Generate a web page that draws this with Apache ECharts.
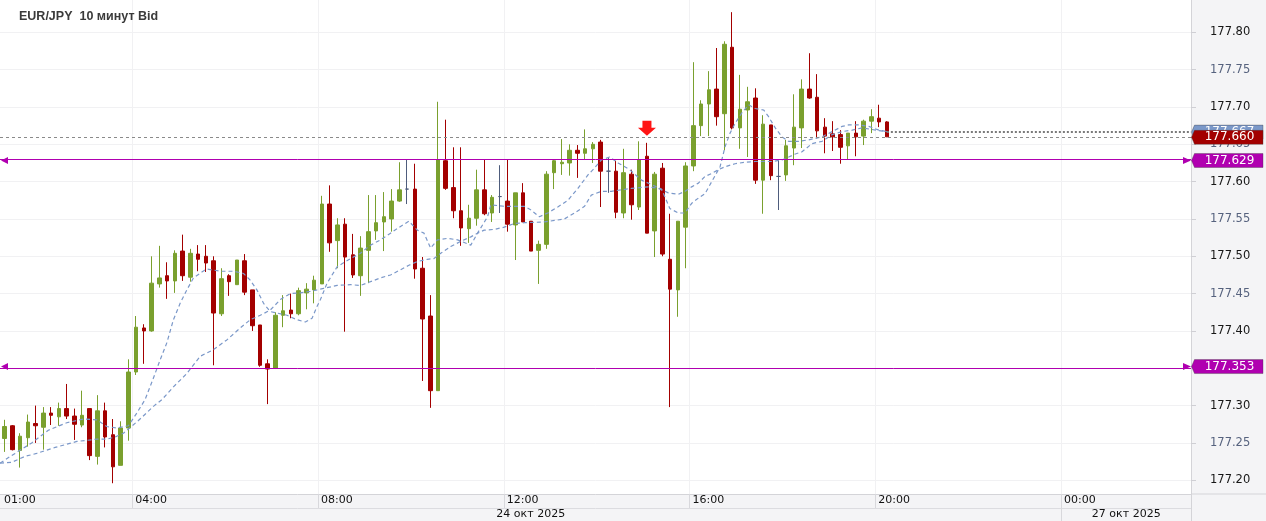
<!DOCTYPE html>
<html><head><meta charset="utf-8">
<script src="https://cdn.jsdelivr.net/npm/echarts@6/dist/echarts.min.js"></script>
<style>html,body{margin:0;padding:0;background:#fff}#c{width:1266px;height:521px}</style>
</head><body><div id="c"></div>
<script>
const chartTitle = 'EUR/JPY  10 минут Bid';
// candles: 10-minute slots counted from 24 Oct 00:00 (slot 7 = 01:10)
const firstSlot = 7;
const opens = [177.256,177.273,177.240,177.257,177.276,177.271,177.290,177.285,177.296,177.286,177.274,177.296,177.232,177.293,177.261,177.220,177.270,177.345,177.404,177.400,177.463,177.474,177.467,177.507,177.472,177.503,177.500,177.494,177.423,177.474,177.462,177.494,177.455,177.408,177.356,177.350,177.421,177.428,177.423,177.451,177.455,177.463,177.570,177.521,177.543,177.502,177.474,177.508,177.534,177.546,177.550,177.574,177.590,177.590,177.484,177.420,177.320,177.628,177.592,177.561,177.537,177.551,177.589,177.558,177.580,177.574,177.542,177.585,177.547,177.508,177.516,177.612,177.624,177.625,177.642,177.638,177.644,177.653,177.614,177.614,177.558,177.610,177.566,177.634,177.534,177.618,177.496,177.455,177.539,177.621,177.675,177.704,177.724,177.691,177.780,177.672,177.696,177.712,177.602,177.676,177.607,177.609,177.645,177.672,177.724,177.713,177.673,177.664,177.663,177.648,177.665,177.661,177.681,177.685,177.680];
const highs = [177.281,177.274,177.263,177.288,177.300,177.298,177.298,177.304,177.329,177.296,177.320,177.296,177.314,177.304,177.282,177.279,177.362,177.420,177.409,177.500,177.514,177.492,177.508,177.529,177.510,177.515,177.515,177.500,177.484,177.476,177.495,177.503,177.455,177.408,177.362,177.425,177.448,177.450,177.458,177.464,177.474,177.581,177.595,177.551,177.551,177.530,177.527,177.582,177.582,177.586,177.590,177.626,177.629,177.624,177.499,177.448,177.707,177.683,177.646,177.646,177.569,177.616,177.629,177.582,177.622,177.629,177.585,177.598,177.547,177.521,177.614,177.630,177.657,177.650,177.649,177.670,177.653,177.656,177.633,177.628,177.644,177.616,177.654,177.652,177.613,177.625,177.557,177.547,177.626,177.760,177.709,177.748,177.779,177.788,177.827,177.743,177.727,177.725,177.689,177.676,177.629,177.656,177.717,177.737,177.772,177.744,177.685,177.681,177.669,177.665,177.681,177.683,177.697,177.703,177.681];
const lows = [177.238,177.240,177.217,177.245,177.250,177.241,177.274,177.273,177.282,177.254,177.271,177.227,177.221,177.244,177.196,177.220,177.253,177.341,177.356,177.399,177.458,177.443,177.451,177.467,177.466,177.480,177.479,177.354,177.420,177.447,177.462,177.448,177.400,177.352,177.302,177.349,177.405,177.417,177.421,177.429,177.437,177.463,177.506,177.484,177.399,177.471,177.447,177.464,177.522,177.507,177.533,177.573,177.570,177.470,177.333,177.297,177.320,177.589,177.551,177.514,177.518,177.541,177.555,177.546,177.558,177.533,177.495,177.546,177.507,177.463,177.510,177.590,177.609,177.608,177.605,177.630,177.625,177.566,177.585,177.551,177.551,177.549,177.562,177.531,177.499,177.500,177.298,177.419,177.484,177.614,177.661,177.661,177.675,177.642,177.670,177.644,177.633,177.597,177.557,177.602,177.562,177.601,177.622,177.645,177.711,177.658,177.638,177.641,177.624,177.630,177.634,177.649,177.665,177.673,177.660];
const closes = [177.272,177.241,177.259,177.278,177.273,177.290,177.287,177.296,177.286,177.275,177.287,177.233,177.293,177.258,177.218,177.270,177.345,177.405,177.400,177.464,177.471,177.467,177.504,177.474,177.504,177.496,177.491,177.424,177.470,177.466,177.495,177.452,177.407,177.354,177.349,177.421,177.427,177.423,177.454,177.456,177.468,177.570,177.518,177.542,177.499,177.475,177.511,177.533,177.545,177.553,177.574,177.589,177.590,177.483,177.416,177.320,177.629,177.591,177.561,177.538,177.551,177.589,177.557,177.579,177.580,177.543,177.585,177.546,177.507,177.516,177.610,177.628,177.626,177.642,177.638,177.644,177.650,177.614,177.614,177.559,177.612,177.569,177.629,177.531,177.610,177.503,177.456,177.547,177.621,177.675,177.704,177.723,177.687,177.784,177.672,177.697,177.707,177.602,177.677,177.608,177.607,177.648,177.673,177.724,177.712,177.668,177.661,177.660,177.646,177.665,177.660,177.681,177.687,177.680,177.660];
// moving averages: [slot, price]
const fastMa = [[6.91,177.223],[8.85,177.236],[11.0,177.250],[13.15,177.267],[15.53,177.277],[17.68,177.282],[19.41,177.281],[20.7,177.272],[22.0,177.270],[23.5,177.273],[24.58,177.290],[25.65,177.308],[26.73,177.337],[27.59,177.361],[28.46,177.384],[29.31,177.415],[30.18,177.437],[31.05,177.455],[31.9,177.471],[32.99,177.479],[33.63,177.483],[35.36,177.480],[37.07,177.480],[38.37,177.477],[39.24,177.468],[40.1,177.455],[40.96,177.437],[41.83,177.426],[43.99,177.421],[45.28,177.415],[46.36,177.412],[47.23,177.417],[47.88,177.433],[48.31,177.442],[49.17,177.464],[50.47,177.486],[52.19,177.497],[53.48,177.504],[54.78,177.515],[56.07,177.522],[57.37,177.531],[58.66,177.540],[59.74,177.547],[60.83,177.535],[61.69,177.531],[62.55,177.511],[63.42,177.522],[64.72,177.524],[66.02,177.522],[67.74,177.515],[68.61,177.531],[69.91,177.553],[70.33,177.569],[72.06,177.567],[74.65,177.567],[75.52,177.562],[76.6,177.553],[77.68,177.558],[78.98,177.566],[80.28,177.575],[81.58,177.591],[82.88,177.609],[83.53,177.616],[84.6,177.629],[85.68,177.633],[86.77,177.625],[88.27,177.616],[89.8,177.602],[91.09,177.596],[92.39,177.590],[93.46,177.564],[94.56,177.558],[95.42,177.558],[96.28,177.571],[97.15,177.578],[98.01,177.584],[98.87,177.600],[99.95,177.620],[100.6,177.647],[101.24,177.665],[101.89,177.678],[102.76,177.692],[103.63,177.703],[104.49,177.698],[105.57,177.696],[106.22,177.687],[107.08,177.672],[107.94,177.660],[108.81,177.654],[110.11,177.654],[111.4,177.656],[113.13,177.660],[114.42,177.667],[115.72,177.674],[116.58,177.676],[117.88,177.676],[119.17,177.674],[120.47,177.669],[121.5,177.667]];
const slowMa = [[6.91,177.223],[8.42,177.224],[10.14,177.232],[11.65,177.236],[14.03,177.244],[16.84,177.252],[19.41,177.255],[20.7,177.255],[21.78,177.258],[22.85,177.263],[24.79,177.280],[26.73,177.299],[27.82,177.308],[29.31,177.325],[31.05,177.343],[32.77,177.366],[34.49,177.375],[36.22,177.388],[37.95,177.404],[39.24,177.415],[40.54,177.421],[41.83,177.428],[43.13,177.442],[44.42,177.450],[45.72,177.451],[47.01,177.453],[48.74,177.457],[50.47,177.461],[52.19,177.462],[53.48,177.461],[54.78,177.466],[56.07,177.471],[57.37,177.475],[58.66,177.482],[59.74,177.488],[60.83,177.493],[62.13,177.496],[62.98,177.497],[63.85,177.504],[65.15,177.513],[66.44,177.520],[67.74,177.526],[68.61,177.531],[69.47,177.535],[70.76,177.536],[72.06,177.539],[73.36,177.544],[74.65,177.545],[77.25,177.546],[78.54,177.548],[79.84,177.550],[81.14,177.558],[82.44,177.567],[83.31,177.582],[84.6,177.587],[85.9,177.587],[87.2,177.589],[88.5,177.591],[90.66,177.593],[91.96,177.591],[93.26,177.585],[94.56,177.583],[95.42,177.587],[96.28,177.593],[97.15,177.598],[98.01,177.607],[98.87,177.611],[99.75,177.616],[100.6,177.620],[101.89,177.624],[103.19,177.626],[104.49,177.627],[106.65,177.627],[107.94,177.629],[108.81,177.633],[109.67,177.637],[110.54,177.640],[111.84,177.651],[113.13,177.654],[114.42,177.663],[115.72,177.667],[117.02,177.669],[118.32,177.672],[120.04,177.669],[121.5,177.667]];
const timeTickSlots = [24,48,72,96,120,144];
const timeTickLabels = ['04:00','08:00','12:00','16:00','20:00','00:00'];
const firstTimeLabel = '01:00';
const dateLabels = ['24 окт 2025','27 окт 2025'];
const dayBreakSlot = 144;
const priceTicks = [177.20,177.25,177.30,177.35,177.40,177.45,177.50,177.55,177.60,177.65,177.70,177.75,177.80];
const levels = [177.629,177.353];
const lastPrice = 177.660;
const maLastValue = 177.667;
const signalSlot = 90;

const X_MIN = 6.905, X_MAX = 160.8, Y_MIN = 177.1816, Y_MAX = 177.8433;
const FONT = 'DejaVu Sans';
const GREEN = '#7aa02e', RED = '#a30000', DOJI = '#4e5c7c', MAG = '#b000b0';

const candleData = opens.map((o, i) => [firstSlot + i + 0.5, o, closes[i], lows[i], highs[i]]);

const chart = echarts.init(document.getElementById('c'), null, {renderer: 'canvas'});
const option = {
  animation: false,
  backgroundColor: '#f4f4f6',
  title: {text: chartTitle, left: 19, top: 10, padding: 0, textStyle: {fontFamily: 'Liberation Sans', fontSize: 12.5, fontWeight: 'bold', color: '#3a3a3a'}},
  grid: {left: 0, right: 75, top: 0, bottom: 27, show: true, backgroundColor: '#ffffff', borderWidth: 0, containLabel: false},
  xAxis: {
    type: 'value', min: X_MIN, max: X_MAX,
    axisLine: {show: true, onZero: false, lineStyle: {color: '#d4d4d8', width: 1}},
    axisTick: {show: true, customValues: timeTickSlots, length: 14, lineStyle: {color: '#d8d8dc'}},
    axisLabel: {customValues: timeTickSlots, formatter: v => { const i = timeTickSlots.indexOf(v); return i >= 0 ? timeTickLabels[i] : ''; },
      align: 'left', padding: [0, 0, 0, 3], margin: 0, lineHeight: 12, fontFamily: FONT, fontSize: 11, color: '#111'},
    splitLine: {show: true, lineStyle: {color: '#f1f1f3', width: 1}}
  },
  yAxis: {
    type: 'value', position: 'right', min: Y_MIN, max: Y_MAX, scale: true,
    axisLine: {show: true, onZero: false, lineStyle: {color: '#d4d4d8'}},
    axisTick: {show: true, customValues: priceTicks, length: 5, lineStyle: {color: '#cfcfd4'}},
    axisLabel: {customValues: priceTicks, margin: 19, fontFamily: FONT, fontSize: 11.5,
      formatter: v => v.toFixed(2),
      color: v => (Math.round(v * 100) % 10 === 0 ? '#161616' : '#56627e')},
    splitLine: {show: true, lineStyle: {color: '#f1f1f3', width: 1}}
  },
  series: [
    {
      type: 'candlestick', data: candleData, encode: {x: 0, y: [1, 2, 3, 4]},
      barWidth: 4, silent: true, z: 2,
      itemStyle: {color: GREEN, color0: RED, borderColor: GREEN, borderColor0: RED, borderColorDoji: DOJI, borderWidth: 1},
      markLine: {
        silent: true, symbol: 'none', animation: false, label: {show: false},
        data: [
          {yAxis: lastPrice, lineStyle: {color: '#8a8a8a', width: 1, type: [3, 3]}},
          {yAxis: levels[0], lineStyle: {color: MAG, width: 1, type: 'solid'}},
          {yAxis: levels[1], lineStyle: {color: MAG, width: 1, type: 'solid'}},
          [{coord: [firstSlot + opens.length - 0.5, maLastValue], lineStyle: {color: '#7a7a7a', width: 2, type: [2, 2]}}, {coord: [X_MAX, maLastValue]}]
        ]
      }
    },
    {type: 'line', data: slowMa, showSymbol: false, silent: true, z: 3,
      lineStyle: {color: '#7b98c9', width: 1.2, type: [4, 3]}},
    {type: 'line', data: fastMa, showSymbol: false, silent: true, z: 3,
      lineStyle: {color: '#7b98c9', width: 1.2, type: [4, 3]}}
  ]
};
chart.setOption(option);

function P(x, y) { return chart.convertToPixel({gridIndex: 0}, [x, y]); }
const right = P(X_MAX, Y_MIN)[0], bottom = P(X_MAX, Y_MIN)[1], left = P(X_MIN, Y_MIN)[0];
const W = 1266, H = 521;
const g = [];
g.push({type: 'line', z: 50, shape: {x1: left, y1: bottom + 14.5, x2: right, y2: bottom + 14.5}, style: {stroke: '#dcdce0', lineWidth: 1}});
g.push({type: 'line', z: 50, shape: {x1: right, y1: bottom, x2: W, y2: bottom}, style: {stroke: '#d4d4d8', lineWidth: 1}});
g.push({type: 'line', z: 50, shape: {x1: right + 0.5, y1: bottom, x2: right + 0.5, y2: H}, style: {stroke: '#d4d4d8', lineWidth: 1}});
const dayX = Math.round(P(dayBreakSlot, Y_MIN)[0]) + 0.5;
g.push({type: 'line', z: 50, shape: {x1: dayX, y1: bottom + 14, x2: dayX, y2: H}, style: {stroke: '#d8d8dc', lineWidth: 1}});
g.push({type: 'text', z: 60, style: {text: firstTimeLabel, x: 4, y: bottom + 6.5, verticalAlign: 'middle', font: '11px "DejaVu Sans"', fill: '#111'}});
g.push({type: 'text', z: 60, style: {text: dateLabels[0], x: (left + dayX) / 2, y: bottom + 20.5, align: 'center', verticalAlign: 'middle', font: '11px "DejaVu Sans"', fill: '#111'}});
g.push({type: 'text', z: 60, style: {text: dateLabels[1], x: (dayX + right) / 2, y: bottom + 20.5, align: 'center', verticalAlign: 'middle', font: '11px "DejaVu Sans"', fill: '#111'}});
levels.forEach(v => {
  const y = Math.round(P(X_MIN, v)[1]) + 0.5;
  g.push({type: 'polygon', z: 60, shape: {points: [[1, y], [8, y - 3.5], [8, y + 3.5]]}, style: {fill: MAG}});
  g.push({type: 'polygon', z: 60, shape: {points: [[right, y], [right - 8, y - 3.5], [right - 8, y + 3.5]]}, style: {fill: MAG}});
});
let tagZ = 70;
function priceTag(v, fill, txt) {
  const y = P(X_MAX, v)[1] + 0.5;
  const h = 14;
  g.push({type: 'polygon', z: tagZ++, shape: {points: [[right + 0.5, y], [right + 3.5, y - h / 2], [W - 3, y - h / 2], [W - 3, y + h / 2], [right + 3.5, y + h / 2]]}, style: {fill: fill, stroke: 'rgba(60,60,60,0.35)', lineWidth: 1}});
  g.push({type: 'text', z: tagZ++, style: {text: txt, x: (right + W) / 2 + 1, y: y, align: 'center', verticalAlign: 'middle', font: '12px "DejaVu Sans"', fill: '#fff'}});
}
priceTag(maLastValue, '#7b98c9', maLastValue.toFixed(3));
priceTag(lastPrice, RED, lastPrice.toFixed(3));
priceTag(levels[0], MAG, levels[0].toFixed(3));
priceTag(levels[1], MAG, levels[1].toFixed(3));
const si = signalSlot - firstSlot;
const tip = P(signalSlot + 0.5, highs[si]);
const cx = tip[0], ty = tip[1] - 7;
g.push({type: 'polygon', z: 60, shape: {points: [[cx - 4.5, ty - 15], [cx + 4.5, ty - 15], [cx + 4.5, ty - 8], [cx + 9, ty - 8], [cx, ty], [cx - 9, ty - 8], [cx - 4.5, ty - 8]]}, style: {fill: '#ff1414'}});
chart.setOption({graphic: g});
</script></body></html>
